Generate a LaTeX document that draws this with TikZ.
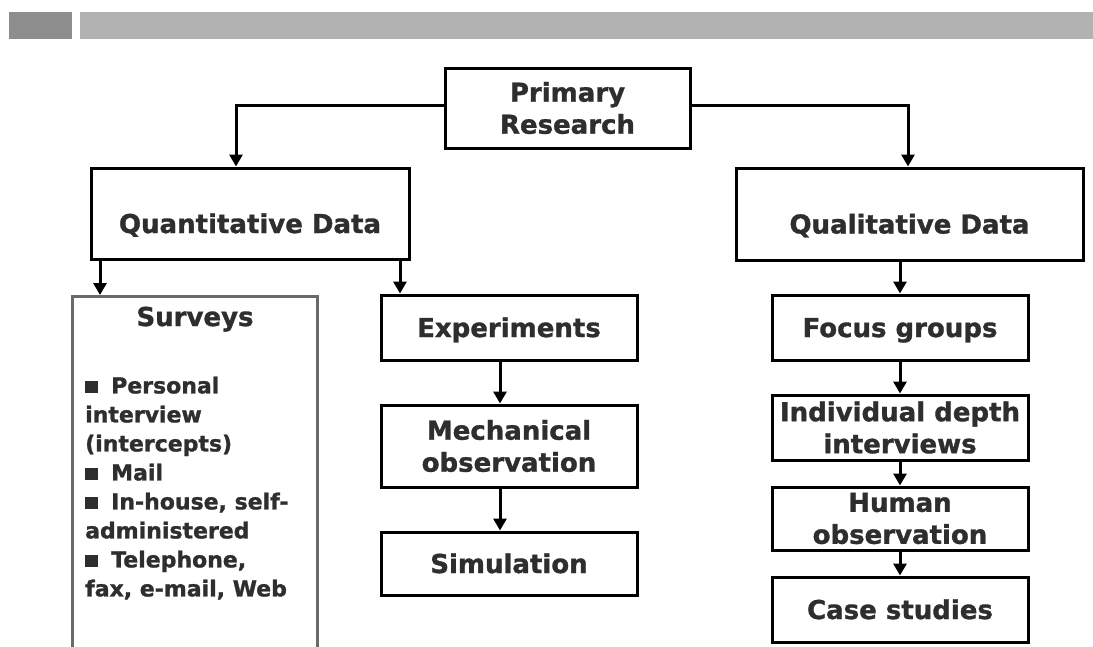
\documentclass[tikz,border=0pt]{standalone}
\usepackage{fontspec}
\setmainfont{DejaVu Sans}[BoldFeatures={FakeBold=1.2}]
\usetikzlibrary{arrows.meta}
\definecolor{barA}{HTML}{8E8E8E}
\definecolor{barB}{HTML}{B2B2B2}
\definecolor{txt}{HTML}{2E2E2E}
\definecolor{sbord}{HTML}{6A6A6A}
\newcommand\sqb{\rule{13pt}{12pt}\hspace{13pt}}
\begin{document}
\begin{tikzpicture}[x=1pt,y=-1pt,
  box/.style={draw=black, line width=3pt, fill=white, text=txt,
    font=\bfseries\fontsize{26}{32}\selectfont, align=center, inner sep=0pt},
  one/.style={text height=19pt, text depth=0pt},
  lowtext/.style={text height=39pt, text depth=0pt},
  arr/.style={line width=3pt, draw=black, -{Triangle[length=12pt,width=13pt]}},
  txtnode/.style={text=txt, inner sep=0pt},
]
\useasboundingbox (0,0) rectangle (1093,646);
\begin{scope}
\clip (0,0) rectangle (1093,646);
% top bar
\fill[barA] (9,12) rectangle (72,39);
\fill[barB] (80,12) rectangle (1093,39);

% boxes
\node[box, minimum width=245pt, minimum height=80pt] (primary) at (567.5,108) {Primary\\Research};
\node[box, lowtext, minimum width=318pt, minimum height=91pt] (quant) at (250,213.5) {Quantitative Data};
\node[box, lowtext, minimum width=347pt, minimum height=92pt] (qual) at (909.5,214) {Qualitative Data};

\node[draw=sbord, line width=3pt, fill=white, minimum width=245pt, minimum height=420pt, anchor=north, inner sep=0pt] (surveys) at (194.5,295) {};
\node[txtnode, one, font=\bfseries\fontsize{26}{32}\selectfont] (survT) at (195,316.5) {Surveys};
\node[txtnode, anchor=north west, align=left, font=\bfseries\fontsize{22}{29}\selectfont] (survL) at (85,376.5)
  {\sqb Personal\\interview\\(intercepts)\\\sqb Mail\\\sqb In-house, self-\\administered\\\sqb Telephone,\\fax, e-mail, Web};

\node[box, one, minimum width=256pt, minimum height=65pt] (exp) at (509,327.5) {Experiments};
\node[box, minimum width=256pt, minimum height=82pt] (mech) at (509,446) {Mechanical\\observation};
\node[box, one, minimum width=256pt, minimum height=63pt] (sim) at (509,563.5) {Simulation};

\node[box, one, minimum width=256pt, minimum height=65pt] (focus) at (900,327.5) {Focus groups};
\node[box, minimum width=256pt, minimum height=65pt] (indiv) at (900,427.5) {Individual depth\\interviews};
\node[box, minimum width=256pt, minimum height=63pt] (human) at (900,518.5) {Human\\observation};
\node[box, one, minimum width=256pt, minimum height=65pt] (case) at (900,609.5) {Case studies};

% connectors
\draw[arr] ([yshift=3pt]primary.west) -| ([xshift=-14pt]quant.north);
\draw[arr] ([yshift=3pt]primary.east) -| ([xshift=-1.5pt]qual.north);
\draw[arr] ([xshift=-150pt]quant.south) -- ([xshift=-150pt]quant.south |- surveys.north);
\draw[arr] ([xshift=150pt]quant.south) -- ([xshift=150pt]quant.south |- exp.north);
\draw[arr] ([xshift=-9pt]exp.south) -- ([xshift=-9pt]mech.north);
\draw[arr] ([xshift=-9pt]mech.south) -- ([xshift=-9pt]sim.north);
\draw[arr] (qual.south -| focus.north) -- (focus.north);
\draw[arr] (focus.south) -- (indiv.north);
\draw[arr] (indiv.south) -- (human.north);
\draw[arr] (human.south) -- (case.north);
\end{scope}
\end{tikzpicture}
\end{document}
